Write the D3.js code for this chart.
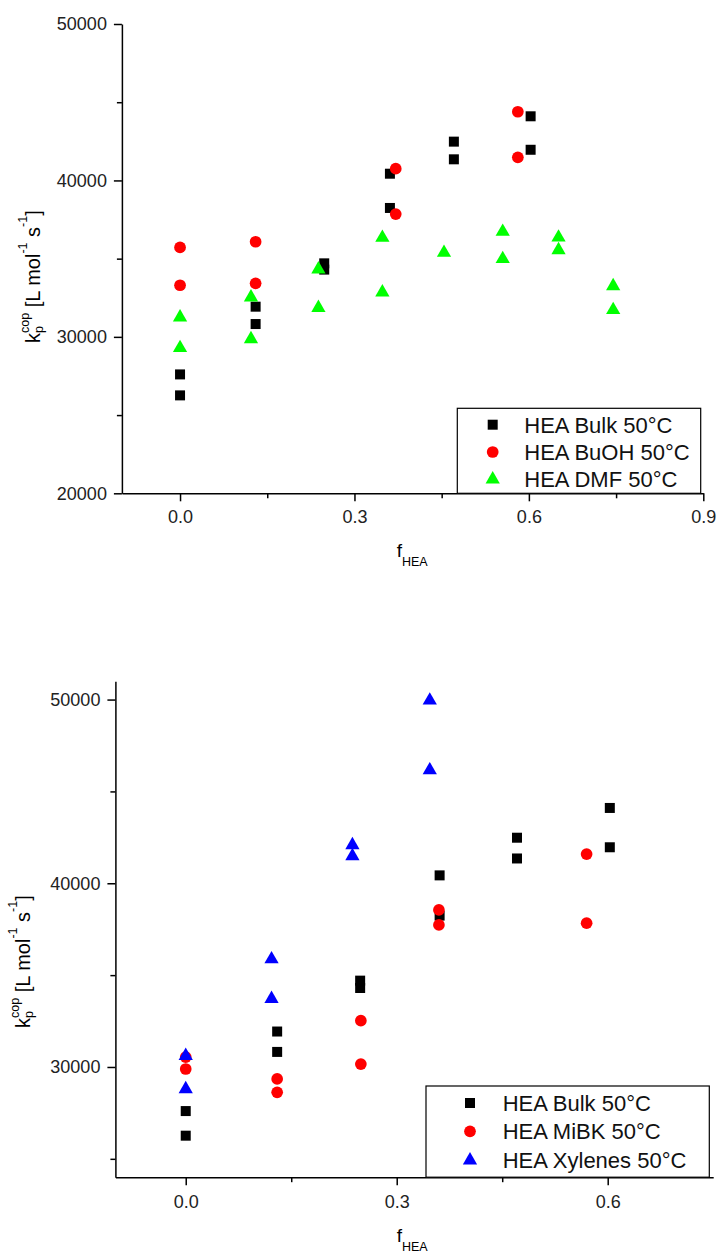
<!DOCTYPE html>
<html>
<head>
<meta charset="utf-8">
<script src="https://cdn.jsdelivr.net/npm/d3@7"></script>
<style>
    body { margin: 0; background: #fff; }
    svg.vis { display: block; font-family: "Liberation Sans", Arial, sans-serif; }
    svg.vis text { white-space: pre; }
</style>
</head>
<body>
<svg class="vis" width="717" height="1256"></svg>
<script>

// data (f_HEA, kp_cop)

const bulkX = [0, 0, 0.13, 0.13, 0.248, 0.248, 0.361, 0.361, 0.471, 0.471, 0.603, 0.603];
const bulkY = [27600, 26260, 31930, 30820, 34700, 34300, 40430, 38240, 42480, 41350, 44100, 41960];

const buohX = [0, 0, 0.13, 0.13, 0.371, 0.371, 0.581, 0.581];
const buohY = [35720, 33300, 36080, 33420, 40750, 37850, 44390, 41480];

const dmfX = [0, 0, 0.122, 0.122, 0.238, 0.238, 0.348, 0.348, 0.454, 0.555, 0.555, 0.651, 0.651, 0.745, 0.745];
const dmfY = [31250, 29290, 32530, 29860, 34320, 31860, 36340, 32850, 35380, 36720, 34980, 36360, 35550, 33250, 31720];

const mibkX = [0, 0, 0.13, 0.13, 0.249, 0.249, 0.360, 0.360, 0.570, 0.570];
const mibkY = [30540, 29890, 29350, 28620, 32520, 30160, 38550, 37730, 41590, 37830];

const xylX = [0, 0, 0.122, 0.122, 0.237, 0.237, 0.347, 0.347];
const xylY = [30610, 28800, 35870, 33710, 42080, 41480, 49950, 46160];

const topLegend = ["HEA Bulk 50°C", "HEA BuOH 50°C", "HEA DMF 50°C"];
const bottomLegend = ["HEA Bulk 50°C", "HEA MiBK 50°C", "HEA Xylenes 50°C"];

const topXTicks = [0, 0.3, 0.6, 0.9];
const topXMinor = [0.15, 0.45, 0.75];
const topYTicks = [20000, 30000, 40000, 50000];
const topYMinor = [25000, 35000, 45000];

const bottomXTicks = [0, 0.3, 0.6];
const bottomXMinor = [0.15, 0.45];
const bottomYTicks = [30000, 40000, 50000];
const bottomYMinor = [25000, 35000, 45000];

const vis = {

    refs: {
        svg: "svg.vis"
    },

    sels: {
        svg: null
    },

    panels: [

        {
            xDomain: [-0.1, 0.9], xRange: [121.9, 703.3],
            yDomain: [20000, 50000], yRange: [493.3, 24],
            xTicks: topXTicks, xMinor: topXMinor,
            yTicks: topYTicks, yMinor: topYMinor,
            xPad: 8.5,
            series: [
                { x: bulkX, y: bulkY, shape: "square", color: "#000000" },
                { x: buohX, y: buohY, shape: "circle", color: "#ff0000" },
                { x: dmfX,  y: dmfY,  shape: "triangle", color: "#00ff00" }
            ],
            legend: { labels: topLegend, box: [457.3, 408.3, 700.7, 493.3], symX: 492.7, textX: 524.3, rows: [432.7, 460, 487.3] },
            yTitle: [40, 343],
            xTitle: [396.7, 557]
        },

        {
            xDomain: [-0.1, 0.75], xRange: [115.4, 713.2],
            yDomain: [24000, 51000], yRange: [1177.2, 681.2],
            xTicks: bottomXTicks, xMinor: bottomXMinor,
            yTicks: bottomYTicks, yMinor: bottomYMinor,
            xPad: 10,
            series: [
                { x: bulkX, y: bulkY, shape: "square", color: "#000000" },
                { x: mibkX, y: mibkY, shape: "circle", color: "#ff0000" },
                { x: xylX,  y: xylY,  shape: "triangle", color: "#0000ff" }
            ],
            legend: { labels: bottomLegend, box: [426, 1086, 709.3, 1177.2], symX: 470, textX: 502.7, rows: [1111, 1139.3, 1168.3] },
            yTitle: [30, 1028],
            xTitle: [396.7, 1242]
        }

    ],

    f: {

        symbol: function(shape) {
            // sizes chosen to match the marker size in the picture
            if (shape === "square")   return d3.symbol(d3.symbolSquare, 100);
            if (shape === "circle")   return d3.symbol(d3.symbolCircle, 108);
            return d3.symbol(d3.symbolTriangle, 88);
        },

        // lays out text pieces one after another (sub / superscripts)
        rich_text: function(g, parts) {
            let x = 0;
            parts.forEach(p => {
                const t = g.append("text")
                    .attr("x", x)
                    .attr("y", p.dy || 0)
                    .attr("font-size", p.size)
                    .attr("fill", "#000")
                    .text(p.t);
                if (!p.stack) x += t.node().getComputedTextLength();
            });
        }

    },

    draw: {

        panel: function(p) {

            const svg = vis.sels.svg;

            const x = d3.scaleLinear().domain(p.xDomain).range(p.xRange);
            const y = d3.scaleLinear().domain(p.yDomain).range(p.yRange);

            const g = svg.append("g");

            // minor ticks
            g.append("g")
                .attr("transform", `translate(0,${p.yRange[0]})`)
                .call(d3.axisBottom(x).tickValues(p.xMinor).tickSize(5).tickFormat(""))
                .call(a => a.select(".domain").remove())
                .selectAll("line").attr("stroke-width", 1.5);

            g.append("g")
                .attr("transform", `translate(${p.xRange[0]},0)`)
                .call(d3.axisLeft(y).tickValues(p.yMinor).tickSize(5).tickFormat(""))
                .call(a => a.select(".domain").remove())
                .selectAll("line").attr("stroke-width", 1.5);

            // major axes
            const xa = g.append("g")
                .attr("transform", `translate(0,${p.yRange[0]})`)
                .call(d3.axisBottom(x).tickValues(p.xTicks).tickSize(8).tickSizeOuter(0)
                    .tickPadding(p.xPad).tickFormat(d3.format(".1f")));

            const ya = g.append("g")
                .attr("transform", `translate(${p.xRange[0]},0)`)
                .call(d3.axisLeft(y).tickValues(p.yTicks).tickSize(8).tickSizeOuter(0)
                    .tickPadding(7).tickFormat(d3.format("d")));

            [xa, ya].forEach(a => {
                a.select(".domain").attr("stroke-width", 1.5);
                a.selectAll(".tick line").attr("stroke-width", 1.5);
                a.selectAll("text")
                    .attr("font-size", 18)
                    .attr("font-family", "Liberation Sans, Arial, sans-serif")
                    .attr("fill", "#222");
            });

            // points
            p.series.forEach(s => {
                const pts = s.x.map((v, i) => ({ x: v, y: s.y[i] }));
                g.append("g")
                    .selectAll("path")
                    .data(pts)
                    .join("path")
                    .attr("transform", d => `translate(${x(d.x)},${y(d.y)})`)
                    .attr("d", vis.f.symbol(s.shape))
                    .attr("fill", s.color);
            });

            // legend
            const L = p.legend;
            g.append("rect")
                .attr("x", L.box[0]).attr("y", L.box[1])
                .attr("width", L.box[2] - L.box[0]).attr("height", L.box[3] - L.box[1])
                .attr("fill", "#fff")
                .attr("stroke", "#000")
                .attr("stroke-width", 1.2);

            L.labels.forEach((lab, i) => {
                const s = p.series[i];
                g.append("path")
                    .attr("transform", `translate(${L.symX},${L.rows[i] - 8})`)
                    .attr("d", vis.f.symbol(s.shape))
                    .attr("fill", s.color);
                g.append("text")
                    .attr("x", L.textX).attr("y", L.rows[i])
                    .attr("font-size", 22)
                    .attr("fill", "#111")
                    .text(lab);
            });

            // y title
            const yt = g.append("g")
                .attr("transform", `translate(${p.yTitle[0]},${p.yTitle[1]}) rotate(-90)`);
            vis.f.rich_text(yt, [
                { t: "k", size: 20 },
                { t: "p", size: 12.5, dy: 3, stack: true },
                { t: "cop", size: 12.5, dy: -11 },
                { t: " [L mol", size: 20 },
                { t: "-1", size: 12.5, dy: -13 },
                { t: " s", size: 20 },
                { t: "-1", size: 12.5, dy: -13 },
                { t: "]", size: 20 }
            ]);

            // x title
            const xt = g.append("g")
                .attr("transform", `translate(${p.xTitle[0]},${p.xTitle[1]})`);
            vis.f.rich_text(xt, [
                { t: "f", size: 19 },
                { t: "HEA", size: 12.5, dy: 9 }
            ]);

        }

    },

    control: {

        init: function() {
            vis.sels.svg = d3.select(vis.refs.svg);
            vis.panels.forEach(p => vis.draw.panel(p));
        }

    }

};

vis.control.init();

</script>
</body>
</html>
